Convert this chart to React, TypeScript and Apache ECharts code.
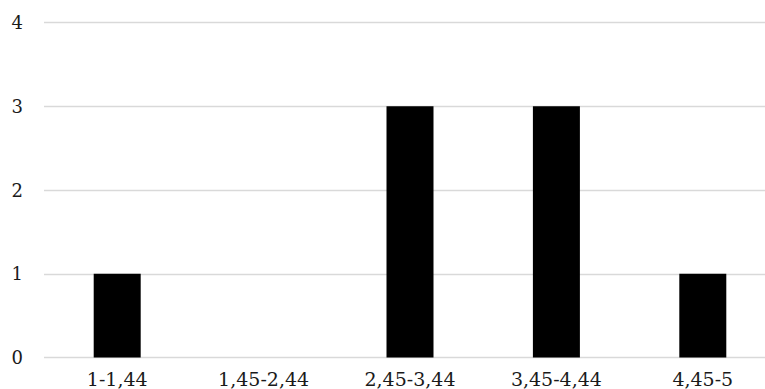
import React, { useEffect, useRef } from "react";
import * as echarts from "echarts";

const categories = ["1-1,44", "1,45-2,44", "2,45-3,44", "3,45-4,44", "4,45-5"];
const counts = [1, 0, 3, 3, 1];
const yTicks = [0, 1, 2, 3, 4];

export default function App() {
  const ref = useRef<HTMLDivElement>(null);
  useEffect(() => {
    if (!ref.current) return;
    const chart = echarts.init(ref.current, null, { renderer: "svg" });
    chart.setOption({
      animation: false,
      backgroundColor: "#ffffff",
      grid: { left: 44, top: 22.5, right: 0, bottom: 31.5, containLabel: false },
      xAxis: {
        type: "category",
        data: categories,
        axisLine: { show: false },
        axisTick: { show: false },
        axisLabel: {
          color: "#1a1a1a",
          fontFamily: "DejaVu Serif",
          fontSize: 19,
          margin: 12,
          interval: 0,
        },
      },
      yAxis: {
        type: "value",
        min: yTicks[0],
        max: yTicks[yTicks.length - 1],
        interval: 1,
        axisLine: { show: false },
        axisTick: { show: false },
        splitLine: { lineStyle: { color: "#d9d9d9", width: 1.3 } },
        axisLabel: {
          color: "#1a1a1a",
          fontFamily: "DejaVu Serif",
          fontSize: 18,
          margin: 21,
        },
      },
      series: [
        {
          type: "bar",
          data: counts,
          barWidth: 47,
          itemStyle: { color: "#000000" },
        },
      ],
    });
    return () => chart.dispose();
  }, []);
  return (
    <div
      ref={ref}
      style={{ position: "fixed", left: 0, top: 0, width: 776, height: 389 }}
    />
  );
}
